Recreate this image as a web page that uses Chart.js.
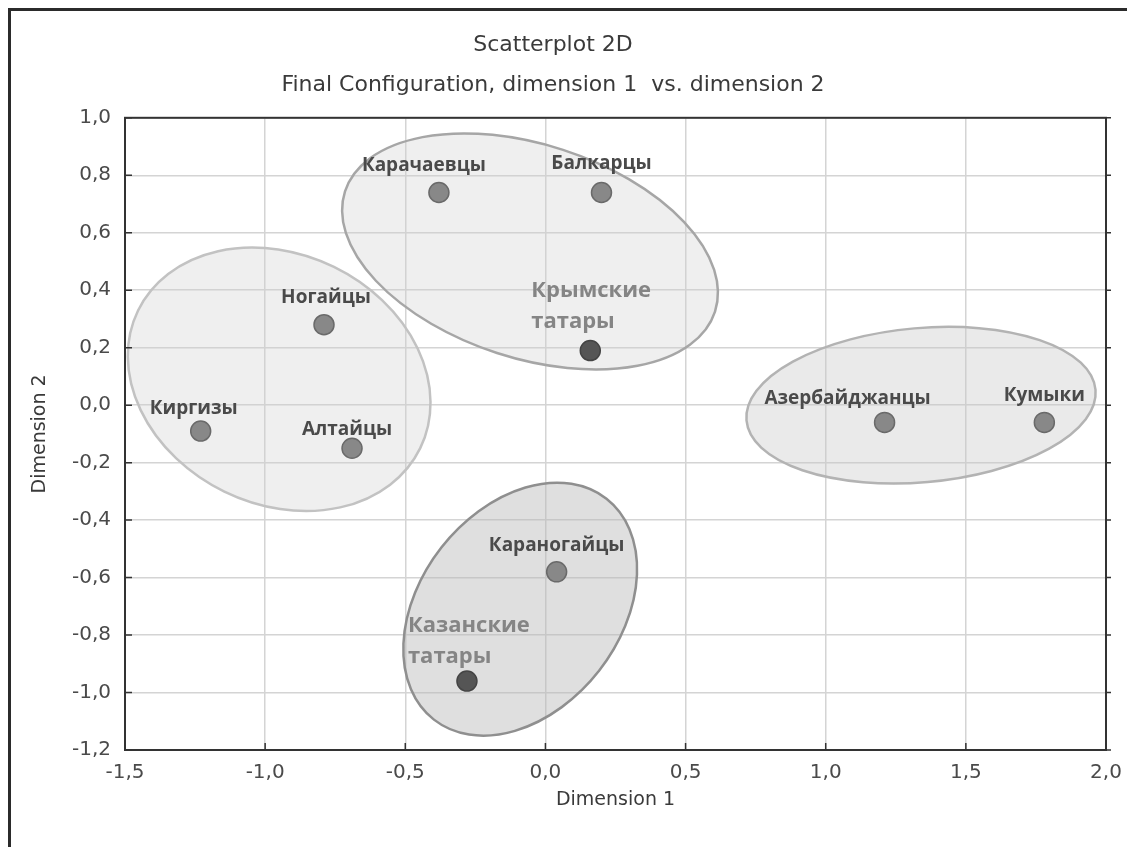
<!DOCTYPE html>
<html>
<head>
<meta charset="utf-8">
<script src="https://cdn.jsdelivr.net/npm/chart.js@4/dist/chart.umd.min.js"></script>
<style>
  html, body { margin: 0; padding: 0; background: #fff; }
  #wrap { width: 1127px; height: 847px; }
</style>
</head>
<body>
<div id="wrap"><canvas id="mds" width="1127" height="847"></canvas></div>
<script>
// point names and coordinates (dimension 1, dimension 2)
const peoples = ["Карачаевцы", "Балкарцы", "Крымские\nтатары", "Ногайцы", "Киргизы", "Алтайцы",
                 "Азербайджанцы", "Кумыки", "Караногайцы", "Казанские\nтатары"];
const dim1 = [-0.38, 0.20, 0.16, -0.79, -1.23, -0.69, 1.21, 1.78, 0.04, -0.28];
const dim2 = [0.74, 0.74, 0.19, 0.28, -0.09, -0.15, -0.06, -0.06, -0.58, -0.96];

// axis ticks
const xTicks = [-1.5, -1.0, -0.5, 0.0, 0.5, 1.0, 1.5, 2.0];
const yTicks = [-1.2, -1.0, -0.8, -0.6, -0.4, -0.2, 0.0, 0.2, 0.4, 0.6, 0.8, 1.0];

// cluster ellipses: centre, semi-axes (dimension 1 units), tilt in degrees
const ellCx = [-0.95, -0.055, 1.34, -0.09];
const ellCy = [0.09, 0.535, 0.0, -0.71];
const ellA = [0.56, 0.694, 0.625, 0.50];
const ellB = [0.446, 0.381, 0.275, 0.357];
const ellTilt = [26, 18, -5, -52];

// drawing styles
const ellFill = ["rgba(205,205,205,0.32)", "rgba(205,205,205,0.32)", "rgba(200,200,200,0.38)", "rgba(185,185,185,0.45)"];
const ellStroke = ["#c2c2c2", "#a6a6a6", "#b3b3b3", "#8f8f8f"];
const bigLabels = ["Крымские\nтатары", "Казанские\nтатары"];
// label shift from its point, px
const labelDx = [-15, 0, -59, 2, -7, -5, -37, 0, 0, -59];
const labelDy = [-27, -29, -60, -27, -22, -19, -24, -27, -26, -55];

const comma = v => Number(v).toFixed(1).replace(".", ",");
const sans = "'DejaVu Sans', Verdana, sans-serif";

const decor = {
  id: "decor",
  beforeDraw(chart) {
    const ctx = chart.ctx;
    ctx.save();
    ctx.fillStyle = "#fff";
    ctx.fillRect(0, 0, chart.width, chart.height);
    ctx.fillStyle = "#2b2b2b";
    ctx.fillRect(8, 8, chart.width - 8, 3);
    ctx.fillRect(8, 8, 3, chart.height - 8);
    ctx.restore();
  },
  beforeDatasetsDraw(chart) {
    const { ctx, scales: { x, y }, chartArea: a } = chart;
    const pxPerUnit = (x.getPixelForValue(1) - x.getPixelForValue(0));
    ctx.save();
    for (let i = 0; i < ellCx.length; i++) {
      ctx.beginPath();
      ctx.ellipse(x.getPixelForValue(ellCx[i]), y.getPixelForValue(ellCy[i]),
        ellA[i] * pxPerUnit, ellB[i] * pxPerUnit, ellTilt[i] * Math.PI / 180, 0, Math.PI * 2);
      ctx.fillStyle = ellFill[i];
      ctx.fill();
      ctx.lineWidth = 2.5;
      ctx.strokeStyle = ellStroke[i];
      ctx.stroke();
    }
    // plot frame and tick marks
    ctx.strokeStyle = "#333";
    ctx.lineWidth = 2;
    ctx.strokeRect(a.left, a.top, a.right - a.left, a.bottom - a.top);
    ctx.beginPath();
    yTicks.forEach(v => {
      const py = y.getPixelForValue(v);
      ctx.moveTo(a.left, py); ctx.lineTo(a.left + 7, py);
      ctx.moveTo(a.right, py); ctx.lineTo(a.right + 5, py);
    });
    xTicks.forEach(v => {
      const px = x.getPixelForValue(v);
      ctx.moveTo(px, a.bottom); ctx.lineTo(px, a.bottom - 7);
    });
    ctx.lineWidth = 1.5;
    ctx.stroke();
    ctx.restore();
  },
  afterDatasetsDraw(chart) {
    const ctx = chart.ctx;
    const pts = chart.getDatasetMeta(0).data;
    ctx.save();
    ctx.textBaseline = "middle";
    peoples.forEach((name, i) => {
      const px = pts[i].x + labelDx[i], py = pts[i].y + labelDy[i];
      if (bigLabels.includes(name)) {
        ctx.font = "bold 22px 'Open Sans', sans-serif";
        ctx.fillStyle = "#858585";
        ctx.textAlign = "left";
        name.split("\n").forEach((line, k) => ctx.fillText(line, px, py + k * 31));
      } else {
        ctx.font = "bold 19px 'Open Sans', sans-serif";
        ctx.fillStyle = "#4a4a4a";
        ctx.textAlign = "center";
        ctx.fillText(name, px, py);
      }
    });
    ctx.restore();
  }
};

new Chart(document.getElementById("mds"), {
  type: "scatter",
  data: {
    datasets: [{
      data: dim1.map((v, i) => ({ x: v, y: dim2[i] })),
      pointRadius: 10,
      pointBackgroundColor: peoples.map(n => bigLabels.includes(n) ? "#555" : "#888"),
      pointBorderColor: peoples.map(n => bigLabels.includes(n) ? "#444" : "#6a6a6a"),
      pointBorderWidth: 1.5
    }]
  },
  options: {
    responsive: false,
    animation: false,
    layout: { padding: { top: 32, right: 21, left: 0, bottom: 0 } },
    plugins: {
      legend: { display: false },
      tooltip: { enabled: false },
      title: {
        display: true, text: "Scatterplot 2D", color: "#3a3a3a",
        font: { family: sans, size: 22, weight: "normal" },
        padding: { top: 0, bottom: 14 }
      },
      subtitle: {
        display: true, text: "Final Configuration, dimension 1  vs. dimension 2", color: "#3a3a3a",
        font: { family: sans, size: 22 },
        padding: { top: 0, bottom: 19 }
      }
    },
    scales: {
      x: {
        type: "linear", min: -1.5, max: 2.0,
        afterFit(s) { s.height = 97; s.paddingLeft = 0; s.paddingRight = 0; },
        afterBuildTicks(s) { s.ticks = xTicks.map(v => ({ value: v })); },
        ticks: { padding: 11, color: "#4a4a4a", font: { family: sans, size: 20 }, maxRotation: 0, autoSkip: false, callback: comma },
        grid: { color: "#d4d4d4", lineWidth: 1.5, drawTicks: false },
        border: { color: "#333", width: 2 },
        title: { display: true, text: "Dimension 1", color: "#3a3a3a", font: { family: sans, size: 19 }, padding: { top: 0, bottom: 36 } }
      },
      y: {
        type: "linear", min: -1.2, max: 1.0,
        afterFit(s) { s.width = 125; },
        afterBuildTicks(s) { s.ticks = yTicks.map(v => ({ value: v })); },
        ticks: { padding: 14, color: "#4a4a4a", font: { family: sans, size: 20 }, autoSkip: false, callback: comma },
        grid: { color: "#d4d4d4", lineWidth: 1.5, drawTicks: false },
        border: { color: "#333", width: 2 },
        title: { display: true, text: "Dimension 2", color: "#3a3a3a", font: { family: sans, size: 19 }, padding: { top: 29, bottom: 0 } }
      }
    }
  },
  plugins: [decor]
});
</script>
</body>
</html>
